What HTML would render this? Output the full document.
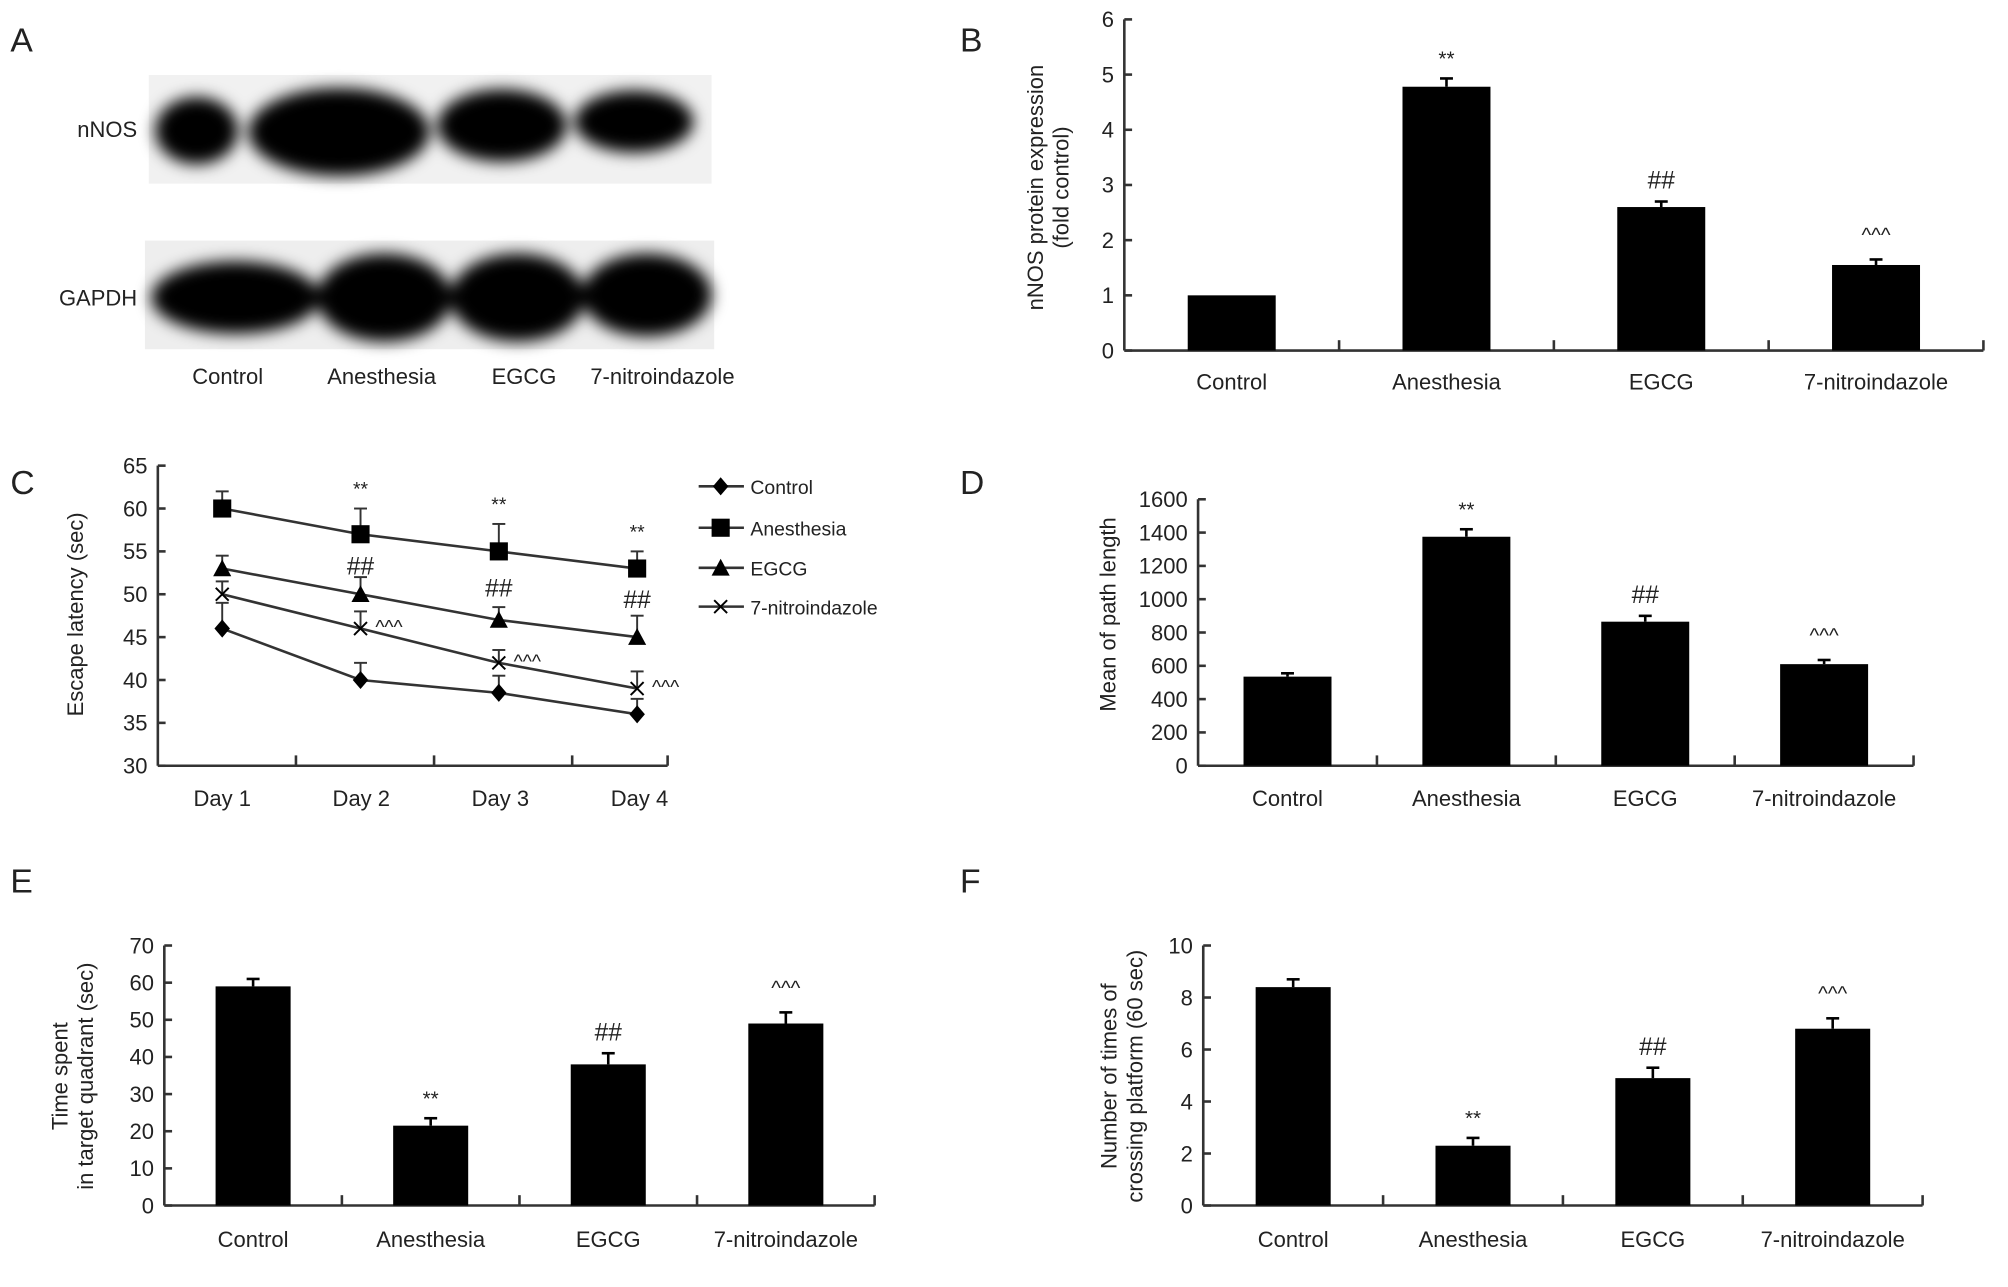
<!DOCTYPE html>
<html><head><meta charset="utf-8">
<style>
html,body{margin:0;padding:0;background:#fff;}
svg{display:block;}
text{font-family:"Liberation Sans",Arial,sans-serif;fill:#222;}
</style></head>
<body>
<svg id="fig" width="2008" height="1287" viewBox="0 0 1552 995" preserveAspectRatio="none" xmlns="http://www.w3.org/2000/svg">
<defs>
<filter id="blur" x="-20%" y="-40%" width="140%" height="180%"><feGaussianBlur stdDeviation="6"/></filter>
</defs>
<!-- Panel A: western blot -->
<g>
<text x="8" y="40" font-size="26">A</text>
<rect x="115" y="58" width="435" height="84" fill="#f1f1f1"/>
<g filter="url(#blur)" fill="#000">
<ellipse cx="152" cy="101" rx="32" ry="26"/>
<ellipse cx="262" cy="102" rx="70" ry="34"/>
<ellipse cx="388" cy="97" rx="50" ry="28"/>
<ellipse cx="490" cy="94" rx="46" ry="24"/>
</g>
<rect x="112" y="186" width="440" height="84" fill="#eeeeee"/>
<g filter="url(#blur)" fill="#000">
<ellipse cx="182" cy="230" rx="65" ry="28"/>
<ellipse cx="297" cy="230" rx="52" ry="34"/>
<ellipse cx="400" cy="230" rx="52" ry="34"/>
<ellipse cx="500" cy="228" rx="50" ry="32"/>
</g>
<text x="106" y="106" font-size="17" text-anchor="end">nNOS</text>
<text x="106" y="236" font-size="17" text-anchor="end">GAPDH</text>
<text x="176" y="297" font-size="17" text-anchor="middle">Control</text>
<text x="295" y="297" font-size="17" text-anchor="middle">Anesthesia</text>
<text x="405" y="297" font-size="17" text-anchor="middle">EGCG</text>
<text x="512" y="297" font-size="17" text-anchor="middle">7-nitroindazole</text>
</g>
<text x="742" y="40" font-size="26">B</text>
<text x="8" y="382" font-size="26">C</text>
<text x="742" y="382" font-size="26">D</text>
<text x="8" y="690" font-size="26">E</text>
<text x="742" y="690" font-size="26">F</text>
</svg>
<script>
// ---- data ----
const categories = ["Control","Anesthesia","EGCG","7-nitroindazole"];
const bValues = [1.0, 4.78, 2.6, 1.55];
const bErrors = [0.0, 0.15, 0.1, 0.1];
const bAnnot = ["", "**", "##", "^^^"];
const bTicks = [0,1,2,3,4,5,6];
const dValues = [535, 1375, 865, 610];
const dErrors = [20, 45, 35, 25];
const dAnnot = ["", "**", "##", "^^^"];
const dTicks = [0,200,400,600,800,1000,1200,1400,1600];
const eValues = [59, 21.5, 38, 49];
const eErrors = [2, 2, 3, 3];
const eAnnot = ["", "**", "##", "^^^"];
const eTicks = [0,10,20,30,40,50,60,70];
const fValues = [8.4, 2.3, 4.9, 6.8];
const fErrors = [0.3, 0.3, 0.4, 0.4];
const fAnnot = ["", "**", "##", "^^^"];
const fTicks = [0,2,4,6,8,10];
const days = ["Day 1","Day 2","Day 3","Day 4"];
const cTicks = [30,35,40,45,50,55,60,65];
const cSeriesNames = ["Control","Anesthesia","EGCG","7-nitroindazole"];
const cControl = [46, 40, 38.5, 36];
const cControlErr = [3, 2, 2, 1.8];
const cAnesthesia = [60, 57, 55, 53];
const cAnesthesiaErr = [2, 3, 3.2, 2];
const cEGCG = [53, 50, 47, 45];
const cEGCGErr = [1.5, 2, 1.5, 2.5];
const cNitro = [50, 46, 42, 39];
const cNitroErr = [1.5, 2, 1.5, 2];
const cAnnotAnes = ["", "**", "**", "**"];
const cAnnotEGCG = ["", "##", "##", "##"];
const cAnnotNitro = ["", "^^^", "^^^", "^^^"];

const NS = "http://www.w3.org/2000/svg";
const svg = document.getElementById("fig");
function el(tag, attrs, parent, txt){
  const e = document.createElementNS(NS, tag);
  for (const k in attrs) e.setAttribute(k, attrs[k]);
  if (txt !== undefined) e.textContent = txt;
  (parent||svg).appendChild(e);
  return e;
}
const AX = "#333";

function barChart(o){
  const g = el("g", {});
  
  
  const ymax = o.ticks[o.ticks.length-1];
  const y = v => o.y0 - (v/ymax)*(o.y0-o.y1);
  const n = o.values.length;
  const step = (o.xEnd - o.x0)/n;
  const x = i => o.x0 + step*(i+0.5);
  const ax = el("line",{x1:o.x0,y1:o.y1,x2:o.x0,y2:o.y0,stroke:AX,"stroke-width":2},g);
  
  
  const xa = el("line",{x1:o.x0,y1:o.y0,x2:o.xEnd,y2:o.y0,stroke:AX,"stroke-width":2},g);
  
  
  o.ticks.forEach(t=>{
    el("line",{x1:o.x0,y1:y(t),x2:o.x0+6,y2:y(t),stroke:AX,"stroke-width":2},g);
    const tl = el("text",{x:o.x0-8,y:y(t)+6,"font-size":17,"text-anchor":"end"},g,String(t));
    
    
  });
  for (let i=1;i<=n;i++){
    el("line",{x1:o.x0+step*i,y1:o.y0,x2:o.x0+step*i,y2:o.y0-8,stroke:AX,"stroke-width":2},g);
  }
  o.values.forEach((v,i)=>{
    const b = el("rect",{x:x(i)-o.bw/2,y:y(v),width:o.bw,height:o.y0-y(v),fill:"#000"},g);
    
    
    if (o.errors[i]>0){
      const ye = y(v+o.errors[i]);
      el("line",{x1:x(i),y1:y(v),x2:x(i),y2:ye,stroke:"#000","stroke-width":2},g);
      el("line",{x1:x(i)-5,y1:ye,x2:x(i)+5,y2:ye,stroke:"#000","stroke-width":2},g);
    }
    if (o.annot[i]){
      const ye = y(v+o.errors[i]);
      const a = el("text",{x:x(i),y:ye-(o.annot[i]==="^^^"?14:10),"font-size":o.annot[i]==="##"?19:16,"text-anchor":"middle"},g,o.annot[i]);
      
      
    }
    const cl = el("text",{x:x(i),y:o.labelY,"font-size":17,"text-anchor":"middle"},g,categories[i]);
    
    
  });
  o.title.forEach((t,k)=>{
    const tx = o.titleX + k*20;
    const tt = el("text",{x:tx,y:o.titleY,"font-size":17,"text-anchor":"middle",transform:`rotate(-90 ${tx} ${o.titleY})`},g,t);
    
    
  });
}

barChart({name:"chart-b-nnos-expression",values:bValues,errors:bErrors,annot:bAnnot,ticks:bTicks,
  x0:869,xEnd:1533,y0:271,y1:15,bw:68,labelY:301,title:["nNOS protein expression","(fold control)"],titleX:806,titleY:145});
barChart({name:"chart-d-path-length",values:dValues,errors:dErrors,annot:dAnnot,ticks:dTicks,
  x0:926,xEnd:1479,y0:592,y1:386,bw:68,labelY:623,title:["Mean of path length"],titleX:862,titleY:475});
barChart({name:"chart-e-time-in-quadrant",values:eValues,errors:eErrors,annot:eAnnot,ticks:eTicks,
  x0:127,xEnd:676,y0:932,y1:731,bw:58,labelY:964,title:["Time spent","in target quadrant (sec)"],titleX:52,titleY:832});
barChart({name:"chart-f-platform-crossings",values:fValues,errors:fErrors,annot:fAnnot,ticks:fTicks,
  x0:930,xEnd:1486,y0:932,y1:731,bw:58,labelY:964,title:["Number of times of","crossing platform (60 sec)"],titleX:863,titleY:832});

// ---- Panel C line chart ----
(function(){
  const g = el("g",{});
  
  
  const x0=122, xEnd=552, y0=592, y1=360, ymin=30, ymax=65;
  const y = v => y0 - (v-ymin)/(ymax-ymin)*(y0-y1);
  const step = (xEnd-x0)/days.length;
  const x = i => x0 + step*(i+0.5);
  el("line",{x1:x0,y1:y1,x2:x0,y2:y0,stroke:AX,"stroke-width":2},g);
  el("line",{x1:x0,y1:y0,x2:xEnd-36,y2:y0,stroke:AX,"stroke-width":2},g);
  cTicks.forEach(t=>{
    el("line",{x1:x0,y1:y(t),x2:x0+6,y2:y(t),stroke:AX,"stroke-width":2},g);
    const tl = el("text",{x:x0-8,y:y(t)+6,"font-size":17,"text-anchor":"end"},g,String(t));
    
    
  });
  for (let i=1;i<=days.length;i++){
    const tx = Math.min(x0+step*i*0.993, xEnd-36);
    el("line",{x1:tx,y1:y0,x2:tx,y2:y0-8,stroke:AX,"stroke-width":2},g);
  }
  days.forEach((d,i)=>{
    const t = el("text",{x:x(i)-4,y:623,"font-size":17,"text-anchor":"middle"},g,d);
    
    
  });
  const tt = el("text",{x:64,y:475,"font-size":17,"text-anchor":"middle",transform:"rotate(-90 64 475)"},g,"Escape latency (sec)");
  
  
  const xi = i => x(i) - 4 - i*0.6;
  function marker(type,cx,cy,parent){
    if (type==="diamond") return el("polygon",{points:`${cx},${cy-7} ${cx+6},${cy} ${cx},${cy+7} ${cx-6},${cy}`,fill:"#000"},parent);
    if (type==="square") return el("rect",{x:cx-7,y:cy-7,width:14,height:14,fill:"#000"},parent);
    if (type==="triangle") return el("polygon",{points:`${cx},${cy-7} ${cx+7},${cy+6} ${cx-7},${cy+6}`,fill:"#000"},parent);
    const m = el("g",{},parent);
    el("line",{x1:cx-5,y1:cy-5,x2:cx+5,y2:cy+5,stroke:"#000","stroke-width":1.5},m);
    el("line",{x1:cx-5,y1:cy+5,x2:cx+5,y2:cy-5,stroke:"#000","stroke-width":1.5},m);
    return m;
  }
  const series = [
    {vals:cControl,errs:cControlErr,m:"diamond",annot:null},
    {vals:cAnesthesia,errs:cAnesthesiaErr,m:"square",annot:cAnnotAnes},
    {vals:cEGCG,errs:cEGCGErr,m:"triangle",annot:cAnnotEGCG},
    {vals:cNitro,errs:cNitroErr,m:"cross",annot:cAnnotNitro}
  ];
  series.forEach((s,si)=>{
    const sg = el("g",{},g);
    
    
    el("polyline",{points:s.vals.map((v,i)=>`${xi(i)},${y(v)}`).join(" "),fill:"none",stroke:"#333","stroke-width":2},sg);
    s.vals.forEach((v,i)=>{
      const ye = y(v+s.errs[i]);
      el("line",{x1:xi(i),y1:y(v),x2:xi(i),y2:ye,stroke:"#333","stroke-width":1.5},sg);
      el("line",{x1:xi(i)-5,y1:ye,x2:xi(i)+5,y2:ye,stroke:"#333","stroke-width":1.5},sg);
      const mk = marker(s.m,xi(i),y(v),sg);
      
      
      if (s.annot && s.annot[i]){
        let ax, ay;
        if (s.annot[i]==="^^^"){ ax = xi(i)+22; ay = y(v)+4; }
        else if (s.annot[i]==="**"){ ax = xi(i); ay = ye-10; }
        else { ax = xi(i); ay = y(cAnesthesia[i])+ (i===1?24:20) + (i===3?-10:0) + 16; }
        if (s.annot[i]==="##") ay = i===1 ? 444 : (i===2 ? 461 : 470);
        const a = el("text",{x:ax,y:ay,"font-size":s.annot[i]==="##"?19:15,"text-anchor":"middle"},sg,s.annot[i]);
        
        
      }
    });
  });
  // legend
  const lys = [376,408,439,469];
  series.forEach((s,si)=>{
    const lg = el("g",{},g);
    
    
    el("line",{x1:540,y1:lys[si],x2:575,y2:lys[si],stroke:"#333","stroke-width":2},lg);
    marker(s.m,557,lys[si],lg);
    el("text",{x:580,y:lys[si]+6,"font-size":15},lg,cSeriesNames[si]);
  });
})();
</script>
</body></html>
